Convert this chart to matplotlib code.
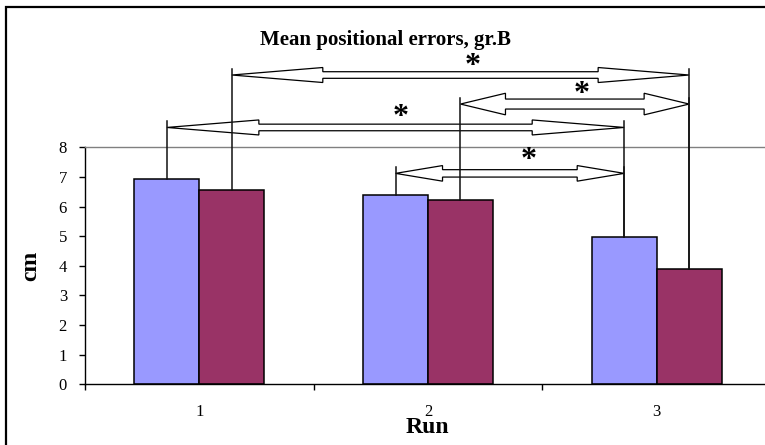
import numpy as np
import matplotlib.pyplot as plt
from matplotlib.patches import Polygon, Rectangle

plt.rcParams['font.family'] = ['Liberation Serif', 'DejaVu Serif']

# data
runs = ['1', '2', '3']
group_a = [6.92, 6.38, 4.97]   # light blue bars
group_b = [6.57, 6.23, 3.90]   # maroon bars

# significant differences: (series, run) -> (series, run)
pairs = [((1, 0), (1, 2)), ((1, 1), (1, 2)), ((0, 0), (0, 2)), ((0, 1), (0, 2))]
levels = [10.44, 9.46, 8.67, 7.12]

colors = ['#9999FF', '#993366']

fig = plt.figure(figsize=(7.65, 4.45), dpi=100)
ax = fig.add_axes([85 / 765, 60.7 / 445, 686 / 765, 237 / 445])

x = np.arange(len(runs))
w = 0.284
offsets = [-w / 2, w / 2]
series = [group_a, group_b]
for s, vals in enumerate(series):
    ax.bar(x + offsets[s], vals, w, color=colors[s], edgecolor='black', linewidth=1.1, zorder=2)

ax.set_xlim(-0.5, 2.5)
ax.set_ylim(0, 8)

# pixel -> data scale
px_x = 3 / ax.bbox.width
px_y = 8 / ax.bbox.height

# arrow shapes (head length, head half height, shaft half height) in pixels
shapes = [(91, 7.5, 3.3), (45, 10.8, 5), (92, 7.5, 3.3), (47, 7.8, 3.7)]
star_dx = [12, 7, 5, 19]
star_dy = [9, 10, 9.5, 13]

for (p0, p1), lev, shp, sdx, sdy in zip(pairs, levels, shapes, star_dx, star_dy):
    x0 = x[p0[1]] + offsets[p0[0]]
    x1 = x[p1[1]] + offsets[p1[0]]
    L, H, S = shp[0] * px_x, shp[1] * px_y, shp[2] * px_y
    pts = [(x0, lev), (x0 + L, lev + H), (x0 + L, lev + S), (x1 - L, lev + S),
           (x1 - L, lev + H), (x1, lev), (x1 - L, lev - H), (x1 - L, lev - S),
           (x0 + L, lev - S), (x0 + L, lev - H)]
    ax.add_patch(Polygon(pts, closed=True, facecolor='white', edgecolor='black',
                         linewidth=0.9, clip_on=False, zorder=3))
    top = lev + 6 * px_y
    for (s, r), xc in ((p0, x0), (p1, x1)):
        ax.plot([xc, xc], [top, series[s][r]], color='#111111', lw=1.1,
                clip_on=False, zorder=4)
    ax.text((x0 + x1) / 2 + sdx * px_x, lev + sdy * px_y, '*', ha='center', va='center',
            fontsize=23, fontweight='bold', clip_on=False, zorder=5)

# axes styling
ax.spines['right'].set_visible(False)
ax.spines['top'].set_color('#808080')
ax.spines['top'].set_linewidth(1.0)
ax.spines['left'].set_linewidth(1.0)
ax.spines['bottom'].set_linewidth(1.0)

ax.set_yticks(range(9))
ax.tick_params(axis='y', direction='out', length=4.5, width=1, pad=8.5, labelsize=12)
ax.set_xticks(x, runs)
ax.tick_params(axis='x', which='major', length=0, pad=14, labelsize=12)
ax.set_xticks([-0.5, 0.5, 1.5, 2.5], minor=True)
ax.tick_params(axis='x', which='minor', direction='out', length=4.5, width=1)

fig.text(386 / 765, 1 - 45 / 445, 'Mean positional errors, gr.B', ha='center', va='baseline',
         fontsize=15, fontweight='bold')
fig.text(427 / 765, 1 - 433 / 445, 'Run', ha='center', va='baseline', fontsize=17, fontweight='bold')
fig.text(31 / 765, 1 - 266 / 445, 'cm', ha='center', va='center', rotation=90,
         fontsize=17, fontweight='bold')

# chart area border (only top and left edges are inside the picture)
fig.patches.append(Rectangle((6 / 765, -0.2), 1.2, 1.2 - 7.3 / 445, transform=fig.transFigure,
                             fill=False, edgecolor='black', linewidth=1.6))

fig.savefig('out.png', dpi=100)
